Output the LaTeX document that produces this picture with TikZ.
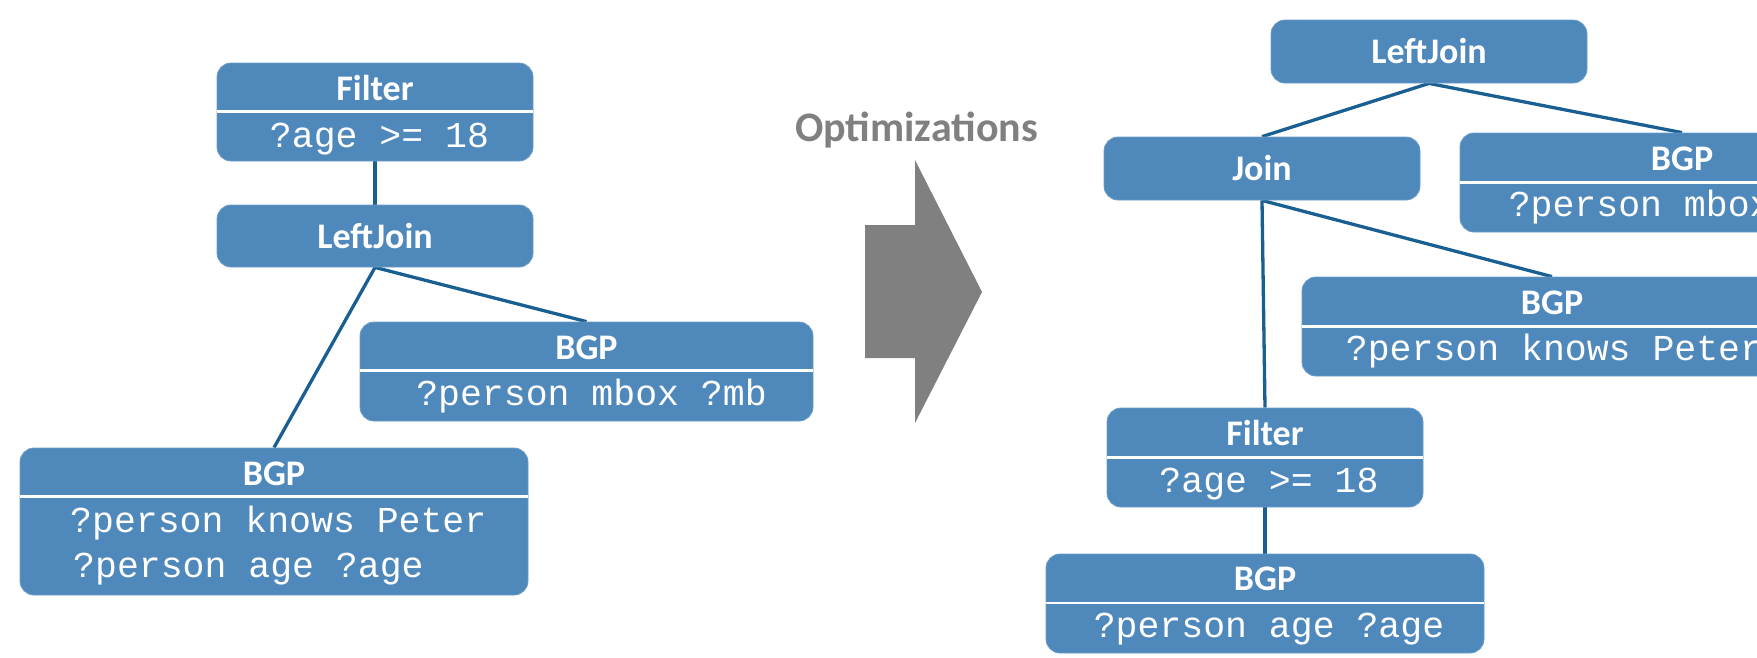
\documentclass[tikz,border=0pt]{standalone}
\usepackage{fontspec}
\setmainfont{Carlito}
\newfontfamily\monof{Liberation Mono}
\usetikzlibrary{backgrounds}
\definecolor{boxblue}{HTML}{4F88BB}
\definecolor{boxedge}{HTML}{6C9CC8}
\definecolor{linkblue}{HTML}{1A5F91}
\definecolor{arrowgray}{HTML}{808080}
\begin{document}
\begin{tikzpicture}[x=1pt,y=-1pt,
  box/.style={rectangle, rounded corners=14pt, fill=boxblue, draw=boxedge, line width=0.8pt, inner sep=0pt},
  title/.style={anchor=base, text=white, font=\fontsize{36}{40}\selectfont\bfseries, inner sep=0pt},
  body/.style={anchor=base, text=white, font=\fontsize{36.5}{40}\selectfont\monof, inner sep=0pt},
  sepline/.style={draw=white, line width=2.5pt},
  link/.style={draw=linkblue, line width=3.3pt},
]
\clip (0,0) rectangle (1757,657);

% ---------- left tree ----------
\node[box, minimum width=316, minimum height=98] (fL) at (375,112) {};
\node[box, minimum width=316, minimum height=62] (ljL) at (375,236) {};
\node[box, minimum width=453, minimum height=99] (mbL) at (586.5,371.5) {};
\node[box, minimum width=508, minimum height=147] (bgL) at (274,521.5) {};

\draw[sepline] ([yshift=-49pt]fL.north west) -- ([yshift=-49pt]fL.north east);
\draw[sepline] ([yshift=-49pt]mbL.north west) -- ([yshift=-49pt]mbL.north east);
\draw[sepline] ([yshift=-49pt]bgL.north west) -- ([yshift=-49pt]bgL.north east);

\node[title] (fLt) at (375,100) {Filter};
\node[body] (fLb) at (379.5,147) {?age >= 18};
\node[title] (ljLt) at (375,248) {LeftJoin};
\node[title] (mbLt) at (586.5,359) {BGP};
\node[body] (mbLb) at (591.5,405) {?person mbox ?mb};
\node[title] (bgLt) at (274,485) {BGP};
\node[body, anchor=base west] (bgLb1) at (70,532) {?person knows Peter};
\node[body, anchor=base west] (bgLb2) at (73,577) {?person age ?age};

% ---------- arrow ----------
\node[anchor=center, text=arrowgray, font=\fontsize{42}{46}\selectfont\bfseries, inner sep=0pt] (opt) at (916.5,130) {Optimizations};
\fill[arrowgray] (865,225) -- (915,225) -- (915,160) -- (982,292) -- (915,423) -- (915,358) -- (865,358) -- cycle;

% ---------- right tree ----------
\node[box, minimum width=316, minimum height=63] (ljR) at (1429,51.5) {};
\node[box, minimum width=316, minimum height=63] (joR) at (1262,168.5) {};
\node[box, minimum width=444, minimum height=99] (mbR) at (1682,182.5) {};
\node[box, minimum width=500, minimum height=99] (knR) at (1552,326.5) {};
\node[box, minimum width=316, minimum height=99] (fR) at (1265,457.5) {};
\node[box, minimum width=438, minimum height=99] (agR) at (1265,603.5) {};

\draw[sepline] ([yshift=-50pt]mbR.north west) -- ([yshift=-50pt]mbR.north east);
\draw[sepline] ([yshift=-50pt]knR.north west) -- ([yshift=-50pt]knR.north east);
\draw[sepline] ([yshift=-50pt]fR.north west) -- ([yshift=-50pt]fR.north east);
\draw[sepline] ([yshift=-49.5pt]agR.north west) -- ([yshift=-49.5pt]agR.north east);

\node[title] (ljRt) at (1429,63.5) {LeftJoin};
\node[title] (joRt) at (1262,180.5) {Join};
\node[title] (mbRt) at (1682,170.5) {BGP};
\node[body] (mbRb) at (1684,216.5) {?person mbox ?mb};
\node[title] (knRt) at (1552,314.5) {BGP};
\node[body] (knRb) at (1554,360.5) {?person knows Peter};
\node[title] (fRt) at (1265,445) {Filter};
\node[body] (fRb) at (1269,492) {?age >= 18};
\node[title] (agRt) at (1265,590.5) {BGP};
\node[body] (agRb) at (1269,637) {?person age ?age};

% ---------- connectors ----------
\begin{scope}[on background layer]
\draw[link] (fL.south) -- (ljL.north);
\draw[link] (ljL.south) -- (bgL.north);
\draw[link] (ljL.south) -- (mbL.north);
\draw[link] (ljR.south) -- (joR.north);
\draw[link] (ljR.south) -- (mbR.north);
\draw[link] (joR.south) -- (knR.north);
\draw[link] (joR.south) -- (fR.north);
\draw[link] (fR.south) -- (agR.north);
\end{scope}
\end{tikzpicture}
\end{document}
